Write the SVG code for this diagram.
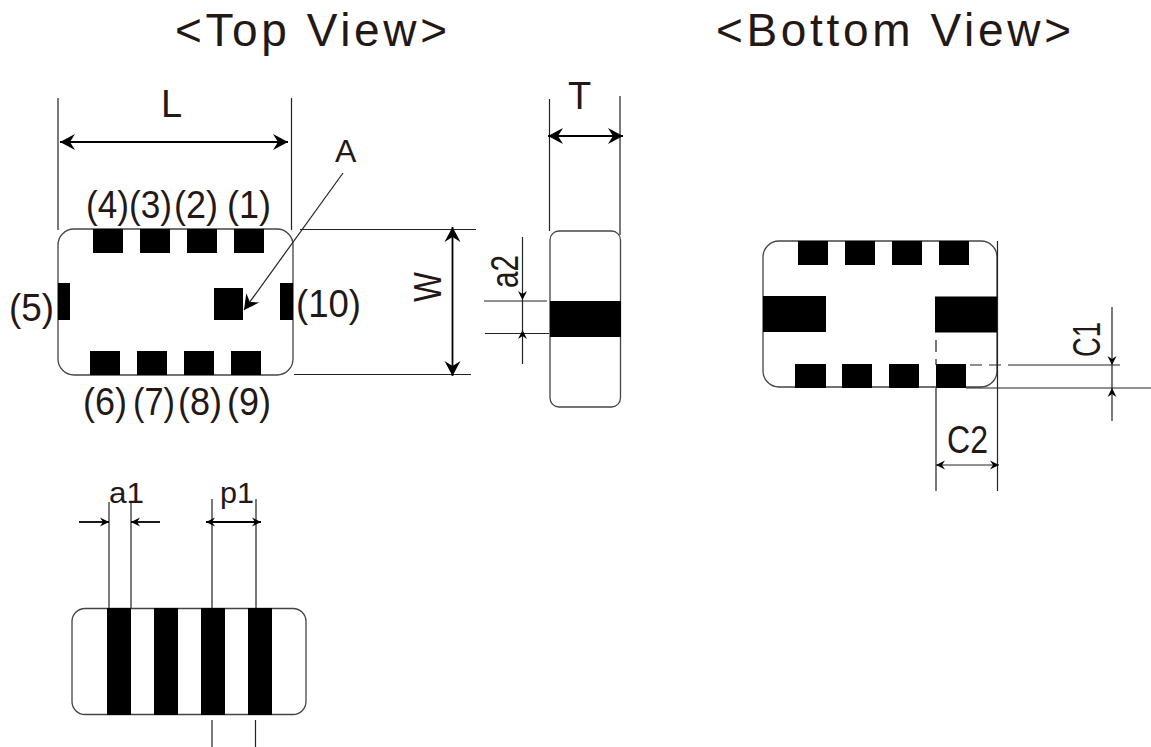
<svg xmlns="http://www.w3.org/2000/svg" width="1151" height="747" viewBox="0 0 1151 747">
<style>
text{font-family:"Liberation Sans",Arial,sans-serif;fill:#231815}
.title{font-size:46px}
.lab{font-size:38px}
.pin{font-size:38px}
.sm{font-size:30px}
.body{fill:#fff;stroke:#444;stroke-width:1.3}
.pad{fill:#000}
.ln{stroke:#222;stroke-width:1.2;fill:none}
.dim{stroke:#000;stroke-width:1.8;fill:none}
</style>
<defs>
<marker id="big" viewBox="0 0 20 20" refX="18" refY="10" markerWidth="20" markerHeight="20" markerUnits="userSpaceOnUse" orient="auto-start-reverse"><path d="M3 2L18 10L3 18L8 10Z" fill="#000"/></marker>
<marker id="small" viewBox="0 0 12 12" refX="11" refY="6" markerWidth="12" markerHeight="12" markerUnits="userSpaceOnUse" orient="auto-start-reverse"><path d="M2 1.500L11 6L2 10.500L5 6Z" fill="#000"/></marker>
</defs>
<rect width="1151" height="747" fill="#fff"/>
<text class="title" x="175" y="46" textLength="272">&lt;Top View&gt;</text>
<text class="title" x="716" y="46" textLength="355">&lt;Bottom View&gt;</text>
<g id="top-view">
<rect class="body" x="58" y="229" width="235" height="146" rx="16"/>
<g class="pad">
<rect x="93" y="229" width="30" height="24"/><rect x="140" y="229" width="30" height="24"/><rect x="187" y="229" width="30" height="24"/><rect x="234" y="229" width="30" height="24"/>
<rect x="90" y="351" width="30" height="24"/><rect x="137" y="351" width="30" height="24"/><rect x="184" y="351" width="30" height="24"/><rect x="231" y="351" width="30" height="24"/>
<rect x="58" y="283" width="12" height="37"/><rect x="280" y="283" width="13" height="37"/><rect x="214" y="288" width="29" height="32"/>
</g>
<text class="pin" x="86" y="218" textLength="43" lengthAdjust="spacingAndGlyphs">(4)</text><text class="pin" x="129" y="218" textLength="43" lengthAdjust="spacingAndGlyphs">(3)</text><text class="pin" x="174" y="218" textLength="44" lengthAdjust="spacingAndGlyphs">(2)</text><text class="pin" x="227" y="218" textLength="44" lengthAdjust="spacingAndGlyphs">(1)</text>
<text class="pin" x="83" y="415" textLength="44" lengthAdjust="spacingAndGlyphs">(6)</text><text class="pin" x="133" y="415" textLength="42" lengthAdjust="spacingAndGlyphs">(7)</text><text class="pin" x="178" y="415" textLength="44" lengthAdjust="spacingAndGlyphs">(8)</text><text class="pin" x="227" y="415" textLength="44" lengthAdjust="spacingAndGlyphs">(9)</text>
<text class="pin" x="9" y="321" textLength="45" lengthAdjust="spacingAndGlyphs">(5)</text><text class="pin" x="296" y="317" textLength="65" lengthAdjust="spacingAndGlyphs">(10)</text>
</g>
<g id="side-view">
<rect class="body" x="550" y="231" width="70.500" height="176" rx="9"/>
<rect class="pad" x="550" y="301" width="71" height="36"/>
</g>
<g id="bottom-view">
<rect class="body" x="763" y="241" width="234" height="146" rx="16"/>
<g class="pad">
<rect x="798" y="241" width="30" height="24"/><rect x="845" y="241" width="30" height="24"/><rect x="892" y="241" width="30" height="24"/><rect x="939" y="241" width="30" height="24"/>
<rect x="795" y="364" width="31" height="24"/><rect x="842" y="364" width="30" height="24"/><rect x="889" y="364" width="30" height="24"/><rect x="936" y="364" width="30" height="24"/>
<rect x="763" y="296" width="63" height="36"/><rect x="935" y="296.500" width="63" height="36"/>
</g>
</g>
<g id="electrode-view">
<rect class="body" x="72" y="608.500" width="234" height="106" rx="13"/>
<g class="pad">
<rect x="107" y="608" width="24" height="107"/><rect x="154" y="608" width="24" height="107"/><rect x="201" y="608" width="24" height="107"/><rect x="248" y="608" width="24" height="107"/>
</g>
</g>
<g id="connectors">
<path class="ln" d="M58 98V230M291.500 98V230M300 229.500H476M294 374.500H471M549.500 99V231M620 96V235M484 301H547M485 333.500H549"/>
<path class="dim" d="M60 142H288" marker-start="url(#big)" marker-end="url(#big)"/>
<path class="dim" d="M452.500 227V376" marker-start="url(#big)" marker-end="url(#big)"/>
<path class="dim" d="M548 136H623" marker-start="url(#big)" marker-end="url(#big)"/>
<path class="ln" d="M343 173L244 310" marker-end="url(#big)"/>
<path class="ln" d="M522.500 237V300" marker-end="url(#small)"/>
<path class="ln" d="M522.500 364V330" marker-end="url(#small)"/>
<path class="ln" d="M522.500 300V333"/>
<path class="ln" d="M1112 307V365" marker-end="url(#small)"/>
<path class="ln" d="M1112 421V388" marker-end="url(#small)"/>
<path class="ln" d="M1112 365V388"/>
<path class="ln" d="M966 388H1151M1020 365H1120M936 388V491M997.500 241V491"/>
<path class="ln" d="M970 365H1020M936 340V365" stroke-dasharray="12 7"/>
<path class="ln" d="M936 465H999" marker-start="url(#small)" marker-end="url(#small)"/>
<path class="ln" d="M109 502V608M131 502V608M212 499V608M256 499V608M212 720V747M255.500 720V747"/>
<path class="dim" d="M79 522H109" marker-end="url(#small)"/>
<path class="dim" d="M160 522H131" marker-end="url(#small)"/>
<path class="dim" d="M206 522H261" marker-start="url(#small)" marker-end="url(#small)"/>
</g>
<g id="labels">
<text class="lab" x="161" y="117">L</text>
<text class="lab" style="font-size:32px" x="335" y="162">A</text>
<text class="lab" x="568" y="109">T</text>
<text class="lab" transform="translate(441 302) rotate(-90)" textLength="30" lengthAdjust="spacingAndGlyphs">W</text>
<text class="lab" transform="translate(518 288) rotate(-90)" textLength="33" lengthAdjust="spacingAndGlyphs">a2</text>
<text class="lab" transform="translate(1100 357) rotate(-90)" textLength="35" lengthAdjust="spacingAndGlyphs">C1</text>
<text class="lab" x="947" y="453" textLength="41" lengthAdjust="spacingAndGlyphs">C2</text>
<text class="sm" x="109" y="503" textLength="35" lengthAdjust="spacingAndGlyphs">a1</text>
<text class="sm" x="220" y="503" textLength="34" lengthAdjust="spacingAndGlyphs">p1</text>
</g>
</svg>
